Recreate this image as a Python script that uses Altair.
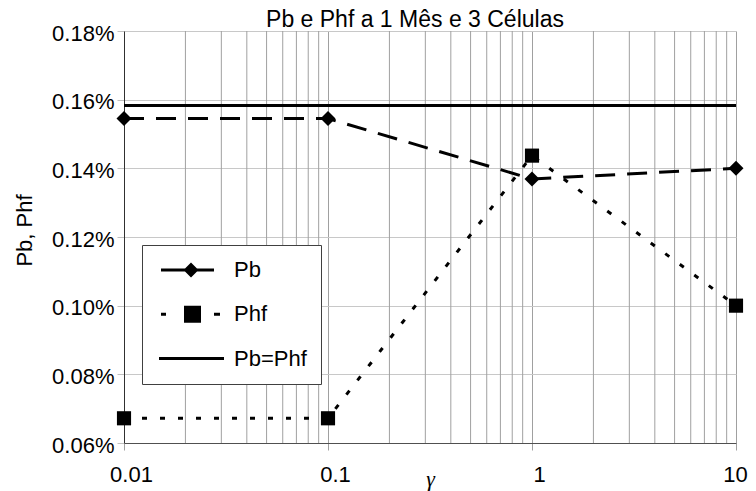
import altair as alt
import pandas as pd

# ---- data ----
gamma = [0.01, 0.1, 1, 10]
pb = [0.1545, 0.1545, 0.1369, 0.1400]      # %
phf = [0.0672, 0.0672, 0.1437, 0.1000]     # %
pb_eq_phf = [0.1583, 0.1583]               # %
pb_eq_phf_x = [0.01, 10]
series_names = ["Pb", "Phf", "Pb=Phf"]
x_major = [0.01, 0.1, 1, 10]
x_minor = [0.02, 0.03, 0.04, 0.05, 0.06, 0.07, 0.08, 0.09,
           0.2, 0.3, 0.4, 0.5, 0.6, 0.7, 0.8, 0.9,
           2, 3, 4, 5, 6, 7, 8, 9]
y_ticks = [0.06, 0.08, 0.10, 0.12, 0.14, 0.16, 0.18]
title_text = "Pb e Phf a 1 Mês e 3 Células"

df = pd.DataFrame({
    "gamma": gamma * 2,
    "value": pb + phf,
    "series": ["Pb"] * len(gamma) + ["Phf"] * len(gamma),
})
df_eq = pd.DataFrame({"gamma": pb_eq_phf_x, "value": pb_eq_phf, "series": ["Pb=Phf"] * 2})
df_leg = pd.concat([df, df_eq], ignore_index=True)
df_minor = pd.DataFrame({"gamma": x_minor})

FONT = "Liberation Sans"

xscale = alt.Scale(type="log", domain=[0.01, 10])
yscale = alt.Scale(domain=[0.06, 0.18])

x_enc = alt.X("gamma:Q", scale=xscale,
              axis=alt.Axis(values=x_major, format="~g", title="γ",
                            titleFont="Liberation Serif", titleFontStyle="italic",
                            titleFontWeight="normal", titleFontSize=22,
                            titleY=42, titleBaseline="alphabetic",
                            labelFont=FONT, labelFontSize=22, labelColor="black",
                            labelPadding=14,
                            labelOffset={"condition": {"test": "datum.value >= 10", "value": -1},
                                         "value": 7},
                            tickSize=7, tickColor="#a0a0a0",
                            domainColor="#505050", gridColor="#a0a0a0",
                            labelFlush=False))
y_enc = alt.Y("value:Q", scale=yscale,
              axis=alt.Axis(values=y_ticks,
                            labelExpr="format(datum.value, '.2f') + '%'",
                            title="Pb, Phf", titleFont=FONT, titleFontSize=22,
                            titleFontWeight="normal", titleColor="black",
                            titleAngle=270, titleX=-100, titleY=199,
                            titleAlign="center", titleBaseline="middle",
                            labelFont=FONT, labelFontSize=22, labelColor="black",
                            labelPadding=3, labelOffset=2,
                            tickSize=7, tickColor="#c0c0c0",
                            domainColor="#303030", gridColor="#c8c8c8"))

minor = alt.Chart(df_minor).mark_rule(color="#a0a0a0", strokeWidth=1).encode(
    x=alt.X("gamma:Q", scale=xscale))

eq_rule = alt.Chart(df_eq.head(1)).mark_rule(color="black", strokeWidth=3).encode(
    y=alt.Y("value:Q", scale=yscale))

lines = alt.Chart(df).mark_line(color="black", strokeWidth=3).encode(
    x=x_enc, y=y_enc,
    strokeDash=alt.StrokeDash("series:N",
                              scale=alt.Scale(domain=["Pb", "Phf"], range=[[20, 12], [5, 13]]),
                              legend=None),
    detail="series:N")

pts_pb = alt.Chart(df).transform_filter(alt.datum.series == "Pb").mark_point(
    shape="diamond", filled=True, color="black", size=225, opacity=1).encode(
    x=alt.X("gamma:Q", scale=xscale), y=alt.Y("value:Q", scale=yscale))
pts_phf = alt.Chart(df).transform_filter(alt.datum.series == "Phf").mark_point(
    shape="square", filled=True, color="black", size=200, opacity=1).encode(
    x=alt.X("gamma:Q", scale=xscale), y=alt.Y("value:Q", scale=yscale))

# legend glyphs as filled outlines (unit = sqrt(symbolSize)/2 = 10 px)
sym_pb = ("M-0.6,-0.15H1.8V0.15H-0.6Z"
          "M1.65,0L2.4,-0.75L3.15,0L2.4,0.75Z"
          "M3.0,-0.15H4.7V0.15H3.0Z")
sym_phf = ("M-0.6,-0.15H-0.1V0.15H-0.6Z"
           "M1.7,-0.85H3.4V0.85H1.7Z"
           "M4.7,-0.15H5.3V0.15H4.7Z")
sym_eq = "M-0.8,-0.15H5.7V0.15H-0.8Z"

legend_layer = alt.Chart(df_leg).mark_point(
    filled=True, color="black", opacity=0, size=400).encode(
    x=alt.X("gamma:Q", scale=xscale), y=alt.Y("value:Q", scale=yscale),
    shape=alt.Shape("series:N",
                    scale=alt.Scale(domain=series_names, range=[sym_pb, sym_phf, sym_eq]),
                    title=None,
                    legend=alt.Legend(orient="none", legendX=18, legendY=214,
                                      padding=14, rowPadding=22.3,
                                      symbolSize=400, symbolOpacity=1,
                                      symbolFillColor="black", symbolStrokeColor="black",
                                      symbolStrokeWidth=0,
                                      labelFont=FONT, labelFontSize=22, labelColor="black",
                                      labelOffset=56, labelLimit=300,
                                      strokeColor="#404040", fillColor="white",
                                      cornerRadius=0)))

chart = alt.layer(minor, eq_rule, lines, pts_pb, pts_phf, legend_layer).properties(
    width=612, height=412,
    title=alt.TitleParams(title_text, font=FONT, fontSize=23, fontWeight="normal",
                          color="black", anchor="middle", dx=-15, dy=31, offset=3,
                          baseline="alphabetic", frame="group"),
    autosize=alt.AutoSizeParams(type="none"),
    padding={"left": 116, "top": 23, "right": 12, "bottom": 50},
).configure_view(stroke="#808080", strokeWidth=1).configure(background="white")

chart.save("out.html", embed_options={"renderer": "svg", "actions": False})
